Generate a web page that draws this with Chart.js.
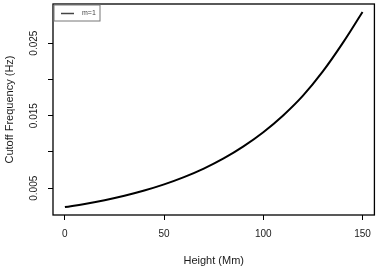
<!DOCTYPE html>
<html lang="en">
<head>
    <meta charset="UTF-8">
    <title>Cutoff Frequency vs Height</title>
    <script src="https://cdn.jsdelivr.net/npm/chart.js"></script>
    <style>
        html, body { margin: 0; padding: 0; background: #fff; }
    </style>
</head>
<body>
    <canvas id="cutoffChart" width="379" height="270"></canvas>

    <script>
        // values
        const heights = [0, 10, 20, 30, 40, 50, 60, 70, 80, 90, 100, 110, 120, 130, 140, 150];
        const cutoffFreq = [0.00240, 0.00284, 0.00335, 0.00396, 0.00468, 0.00553, 0.00653, 0.00771,
                            0.00911, 0.01077, 0.01272, 0.01503, 0.01776, 0.02110, 0.02500, 0.02930];
        const xTicks = [0, 50, 100, 150];
        const yTicks = [0.005, 0.010, 0.015, 0.020, 0.025];
        const yLabels = ['0.005', '', '0.015', '', '0.025'];
        const seriesName = 'm=1';

        const FONT = 'Liberation Sans, Arial, sans-serif';
        const INK = '#1a1a1a';

        // box, rotated y labels and the little legend, R style
        const rStyle = {
            id: 'rStyle',
            afterDraw(chart) {
                const ctx = chart.ctx;
                const a = chart.chartArea;
                const ys = chart.scales.y;
                ctx.save();
                ctx.strokeStyle = '#000';
                ctx.lineWidth = 1.3;
                ctx.strokeRect(a.left, a.top, a.right - a.left, a.bottom - a.top);

                ctx.fillStyle = INK;
                ctx.font = '10px ' + FONT;
                ctx.textAlign = 'center';
                ctx.textBaseline = 'middle';
                yTicks.forEach((v, i) => {
                    if (!yLabels[i]) return;
                    ctx.save();
                    ctx.translate(34, ys.getPixelForValue(v));
                    ctx.rotate(-Math.PI / 2);
                    ctx.fillText(yLabels[i], 0, 0);
                    ctx.restore();
                });

                // legend
                const lx = a.left + 1, ly = a.top + 1;
                ctx.strokeStyle = '#777';
                ctx.lineWidth = 1;
                ctx.strokeRect(lx, ly, 46, 16);
                ctx.strokeStyle = '#444';
                ctx.lineWidth = 1.5;
                ctx.beginPath();
                ctx.moveTo(lx + 7, ly + 8.5);
                ctx.lineTo(lx + 20, ly + 8.5);
                ctx.stroke();
                ctx.fillStyle = '#444';
                ctx.font = '7px ' + FONT;
                ctx.textAlign = 'left';
                ctx.fillText(chart.data.datasets[0].label, lx + 28, ly + 8.5);
                ctx.restore();
            }
        };

        new Chart(document.getElementById('cutoffChart'), {
            type: 'line',
            data: {
                datasets: [{
                    label: seriesName,
                    data: heights.map((h, i) => ({ x: h, y: cutoffFreq[i] })),
                    borderColor: '#000',
                    borderWidth: 2,
                    pointRadius: 0,
                    tension: 0.4,
                    fill: false
                }]
            },
            options: {
                responsive: false,
                animation: false,
                devicePixelRatio: 1,
                layout: { padding: { left: 0, right: 4, top: 4, bottom: 0 } },
                plugins: {
                    legend: { display: false },
                    tooltip: { enabled: false }
                },
                scales: {
                    x: {
                        type: 'linear',
                        min: -6,
                        max: 156,
                        afterBuildTicks: s => { s.ticks = xTicks.map(v => ({ value: v })); },
                        afterFit: s => { s.height = 55; },
                        grid: { drawOnChartArea: false, drawTicks: true, tickLength: 5, tickColor: '#000' },
                        border: { display: false },
                        ticks: { color: INK, font: { family: FONT, size: 10 }, padding: 8, maxRotation: 0 },
                        title: {
                            display: true,
                            text: 'Height (Mm)',
                            color: INK,
                            font: { family: FONT, size: 11 },
                            padding: { top: 0, bottom: 2 }
                        }
                    },
                    y: {
                        type: 'linear',
                        min: 0.00131,
                        max: 0.0304,
                        afterBuildTicks: s => { s.ticks = yTicks.map(v => ({ value: v })); },
                        afterFit: s => { s.width = 53; },
                        grid: { drawOnChartArea: false, drawTicks: true, tickLength: 5, tickColor: '#000' },
                        border: { display: false },
                        ticks: { display: false },
                        title: {
                            display: true,
                            text: 'Cutoff Frequency (Hz)',
                            color: INK,
                            font: { family: FONT, size: 11 },
                            padding: { top: 3, bottom: 0 }
                        }
                    }
                }
            },
            plugins: [rStyle]
        });
    </script>
</body>
</html>
